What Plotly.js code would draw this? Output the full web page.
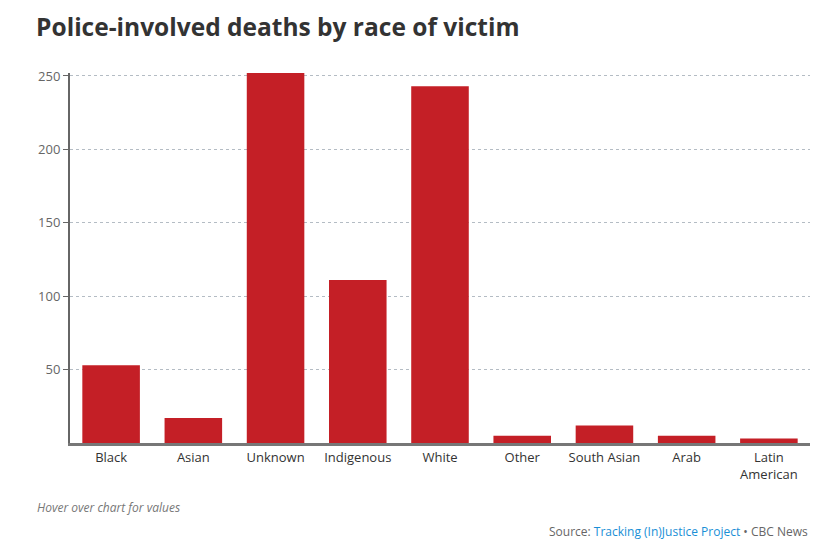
<!DOCTYPE html>
<html>
<head>
<meta charset="utf-8">
<script src="https://cdn.plot.ly/plotly-3.0.1.min.js"></script>
<style>
  body { margin: 0; background: #fff; }
  #chart { width: 840px; height: 550px; }
</style>
</head>
<body>
<div id="chart"></div>
<script>
// Police-involved deaths by race of victim
var races = ['Black', 'Asian', 'Unknown', 'Indigenous', 'White', 'Other', 'South Asian', 'Arab', 'Latin<br>American'];
var deaths = [53, 17, 252, 111, 243, 5, 12, 5, 3];
var yTicks = [50, 100, 150, 200, 250];

var bars = {
  x: races,
  y: deaths,
  type: 'bar',
  marker: {
    color: '#c41f26'
  },
  hoverinfo: 'x+y'
};

var layout = {
  width: 840,
  height: 550,
  margin: {l: 70, r: 30, t: 73, b: 107},
  paper_bgcolor: '#fff',
  plot_bgcolor: '#fff',
  bargap: 0.3,
  showlegend: false,
  font: {family: 'Open Sans, sans-serif', size: 13, color: '#333'},
  title: {
    text: '<b>Police-involved deaths by race of victim</b>',
    font: {family: 'Open Sans, sans-serif', size: 24.5, color: '#333'},
    x: 0.043, xanchor: 'left',
    y: 0.95, yanchor: 'middle'
  },
  xaxis: {
    showgrid: false,
    showline: true,
    linecolor: '#777',
    linewidth: 3,
    ticks: '',
    tickfont: {size: 13, color: '#333'}
  },
  yaxis: {
    range: [0, 252],
    tickvals: yTicks,
    showgrid: true,
    gridcolor: '#b4bcc4',
    griddash: 'dot',
    gridwidth: 1,
    zeroline: false,
    showline: true,
    linecolor: '#666',
    linewidth: 2,
    ticks: 'outside',
    ticklen: 5,
    tickcolor: '#666',
    tickfont: {size: 13, color: '#666'}
  },
  annotations: [
    {
      xref: 'paper', yref: 'paper',
      x: -0.047, y: -0.173, xanchor: 'left', yanchor: 'middle',
      text: '<i>Hover over chart for values</i>',
      showarrow: false,
      font: {size: 12, color: '#777'}
    },
    {
      xref: 'paper', yref: 'paper',
      x: 1, y: -0.24, xanchor: 'right', yanchor: 'middle',
      text: 'Source: <span style="color:#1a8fd6">Tracking (In)Justice Project</span> \u2022 CBC News',
      showarrow: false,
      font: {size: 12, color: '#666'}
    }
  ]
};

Plotly.newPlot('chart', [bars], layout, {displayModeBar: false, responsive: false});
</script>
</body>
</html>
